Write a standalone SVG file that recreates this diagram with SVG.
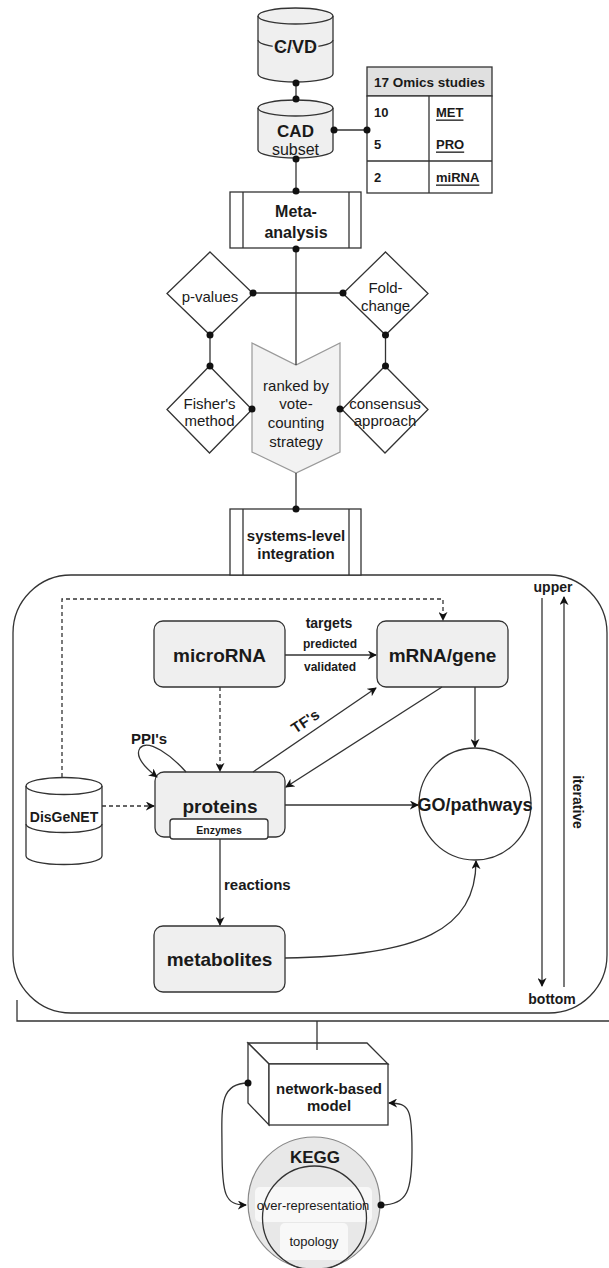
<svg xmlns="http://www.w3.org/2000/svg" width="609" height="1268" viewBox="0 0 609 1268">
<style>
text{font-family:"Liberation Sans",Arial,sans-serif;fill:#1a1a1a;text-anchor:middle;dominant-baseline:central}
.b{font-weight:bold}
.ln{fill:none;stroke:#333;stroke-width:1.3}
.dash{fill:none;stroke:#333;stroke-width:1.3;stroke-dasharray:4 3}
.nd{fill:#efefef;stroke:#333;stroke-width:1.3}
.wh{fill:#fff;stroke:#333;stroke-width:1.3}
.dot{fill:#111}
.dm{font-size:15px}
</style>
<defs>
<marker id="ar" viewBox="0 0 10 10" refX="9" refY="5" markerWidth="9" markerHeight="9" markerUnits="userSpaceOnUse" orient="auto">
<path d="M0,0 L10,5 L0,10 L3,5 Z" fill="#111"/>
</marker>
</defs>
<rect width="609" height="1268" fill="#fff"/>

<g id="container">
<rect x="13" y="575" width="594" height="438" rx="58" ry="58" fill="none" stroke="#333" stroke-width="1.3"/>
<path class="ln" d="M17,1000 L17,1021 L609,1021"/>
</g>

<g id="cvd">
<path class="nd" d="M258,16 A37.5,8 0 0 1 333,16 L333,74 A37.5,8 0 0 1 258,74 Z"/>
<path class="ln" d="M258,16 A37.5,8 0 0 0 333,16"/>
<path class="ln" d="M258,40 A37.5,8 0 0 0 333,40"/>
<text x="295.5" y="47" class="b" font-size="18" style="paint-order:stroke" stroke="#efefef" stroke-width="4">C/VD</text>
</g>

<g id="cad">
<path class="nd" d="M258,108 A37.5,8 0 0 1 333,108 L333,150 A37.5,8 0 0 1 258,150 Z"/>
<path class="ln" d="M258,108 A37.5,8 0 0 0 333,108"/>
<text x="295.5" y="131" class="b" font-size="17">CAD</text>
<text x="295.5" y="149" font-size="16">subset</text>
</g>

<g id="omics-table">
<rect x="367" y="67" width="125" height="29" fill="#e0e0e0" stroke="#333" stroke-width="1.3"/>
<rect x="367" y="96" width="125" height="97" fill="#fff" stroke="#333" stroke-width="1.3"/>
<path class="ln" d="M429,96 L429,193 M367,161 L492,161"/>
<text x="429.5" y="82" class="b" font-size="13.5">17 Omics studies</text>
<g class="b" font-size="13">
<text x="374" y="112" style="text-anchor:start">10</text>
<text x="374" y="144" style="text-anchor:start">5</text>
<text x="374" y="177" style="text-anchor:start">2</text>
<text x="436" y="112" style="text-anchor:start" text-decoration="underline">MET</text>
<text x="436" y="144" style="text-anchor:start" text-decoration="underline">PRO</text>
<text x="436" y="177" style="text-anchor:start" text-decoration="underline">miRNA</text>
</g>
</g>

<g id="meta-analysis">
<rect class="wh" x="230" y="192" width="131" height="56"/>
<path class="ln" d="M243,192 L243,248 M349,192 L349,248"/>
<text x="296" y="211" class="b" font-size="16">Meta-</text>
<text x="296" y="232" class="b" font-size="16">analysis</text>
</g>

<g id="p-values">
<polygon class="wh" points="210,252 253,293.5 210,335 167,293.5"/>
<text x="210" y="296" class="dm">p-values</text>
</g>
<g id="fold-change">
<polygon class="wh" points="385.5,252 428,293.5 385.5,335 343,293.5"/>
<text x="385.5" y="287" class="dm">Fold-</text>
<text x="385.5" y="305" class="dm">change</text>
</g>
<g id="fishers">
<polygon class="wh" points="209.5,366 252,409.5 209.5,453 167,409.5"/>
<text x="209.5" y="403" class="dm">Fisher's</text>
<text x="209.5" y="420" class="dm">method</text>
</g>
<g id="consensus">
<polygon class="wh" points="385,366 428,409.5 385,453 342,409.5"/>
<text x="385" y="403" class="dm">consensus</text>
<text x="385" y="420" class="dm">approach</text>
</g>
<g id="ranked">
<path d="M252,343 L296,365 L340,343 L340,452 L296,473 L252,452 Z" fill="#f2f2f2" stroke="#999" stroke-width="1.2"/>
<text x="296" y="385" font-size="15">ranked by</text>
<text x="296" y="403" font-size="15">vote-</text>
<text x="296" y="422" font-size="15">counting</text>
<text x="296" y="441" font-size="15">strategy</text>
</g>

<g id="systems-level">
<rect class="wh" x="230" y="509" width="131" height="66"/>
<path class="ln" d="M243,509 L243,575 M349,509 L349,575"/>
<text x="296" y="535" class="b" font-size="15">systems-level</text>
<text x="296" y="553" class="b" font-size="15">integration</text>
</g>

<g id="microRNA">
<rect class="nd" x="154" y="621" width="131" height="66" rx="9"/>
<text x="219.5" y="655" class="b" font-size="19">microRNA</text>
</g>
<g id="mRNA-gene">
<rect class="nd" x="377" y="621" width="131" height="66" rx="9"/>
<text x="442.5" y="655" class="b" font-size="19">mRNA/gene</text>
</g>
<g id="proteins">
<rect class="nd" x="155" y="772" width="130" height="65" rx="9"/>
<text x="220" y="806" class="b" font-size="19">proteins</text>
<rect class="wh" x="170" y="819" width="98" height="20" rx="3"/>
<text x="219" y="829.5" class="b" font-size="10.5">Enzymes</text>
</g>
<g id="metabolites">
<rect class="nd" x="154" y="926" width="131" height="66" rx="9"/>
<text x="219.5" y="959" class="b" font-size="19">metabolites</text>
</g>
<g id="go-pathways">
<circle class="wh" cx="475" cy="804" r="56"/>
<text x="475" y="805" class="b" font-size="18">GO/pathways</text>
</g>
<g id="disgenet">
<path class="wh" d="M26,786 A38,8.5 0 0 1 102,786 L102,856 A38,8.5 0 0 1 26,856 Z"/>
<path class="ln" d="M26,786 A38,8.5 0 0 0 102,786"/>
<path class="ln" d="M26,824 A38,8.5 0 0 0 102,824"/>
<text x="64" y="817" class="b" font-size="14">DisGeNET</text>
</g>

<g id="iterative">
<text x="553" y="587" class="b" font-size="14">upper</text>
<text x="552" y="999" class="b" font-size="14">bottom</text>
<text x="0" y="0" class="b" font-size="14" transform="translate(578,802) rotate(90)">iterative</text>
</g>

<g id="network-model">
<polygon class="wh" points="248,1043 367,1043 388,1064 269,1064"/>
<polygon class="wh" points="248,1043 269,1064 269,1125 248,1103"/>
<rect class="wh" x="269" y="1064" width="119" height="61"/>
<text x="329" y="1088" class="b" font-size="15">network-based</text>
<text x="329" y="1105" class="b" font-size="15">model</text>
</g>

<g id="kegg">
<circle cx="314" cy="1203" r="66" fill="#e8e8e8" stroke="#888" stroke-width="1.2"/>
<rect x="255" y="1187" width="117" height="35" rx="5" fill="#fafafa" fill-opacity="0.9"/>
<rect x="280" y="1223" width="68" height="37" rx="5" fill="#fafafa" fill-opacity="0.9"/>
<circle cx="314.5" cy="1218" r="52" fill="none" stroke="#333" stroke-width="1.3"/>
<text x="315" y="1157" class="b" font-size="17">KEGG</text>
<text x="313" y="1205" font-size="13">over-representation</text>
<text x="314" y="1241" font-size="13">topology</text>
</g>

<g id="connectors">
<path class="ln" d="M296,83 L296,99"/>
<circle class="dot" cx="296" cy="83" r="3.5"/><circle class="dot" cx="296" cy="99" r="3.5"/>
<path class="ln" d="M334,130 L367,130"/>
<circle class="dot" cx="334" cy="130" r="3.5"/><circle class="dot" cx="367" cy="130" r="3.5"/>
<path class="ln" d="M296,159 L296,192"/>
<circle class="dot" cx="296" cy="159" r="3.5"/><circle class="dot" cx="296" cy="191" r="3.5"/>
<path class="ln" d="M296,249 L296,365"/>
<circle class="dot" cx="296" cy="249" r="3.5"/>
<path class="ln" d="M253,293 L343,293"/>
<circle class="dot" cx="253" cy="293" r="3.5"/><circle class="dot" cx="343" cy="293" r="3.5"/>
<path class="ln" d="M210,335 L210,366"/>
<circle class="dot" cx="210" cy="335" r="3.5"/><circle class="dot" cx="210" cy="366" r="3.5"/>
<path class="ln" d="M385.5,335 L385.5,366"/>
<circle class="dot" cx="385.5" cy="335" r="3.5"/><circle class="dot" cx="385.5" cy="366" r="3.5"/>
<circle class="dot" cx="252" cy="409" r="3.5"/><circle class="dot" cx="340" cy="409" r="3.5"/>
<path class="ln" d="M296,473 L296,509"/>
<circle class="dot" cx="296" cy="509" r="3.5"/>

<path class="dash" d="M62,777 L62,599 L443,599 L443,620" marker-end="url(#ar)"/>
<path class="ln" d="M285,655 L376,655" marker-end="url(#ar)"/>
<text x="329" y="623" class="b" font-size="14">targets</text>
<text x="330" y="644" class="b" font-size="12">predicted</text>
<text x="330" y="667" class="b" font-size="12">validated</text>
<path class="dash" d="M220,687 L220,771" marker-end="url(#ar)"/>
<path class="ln" d="M186,772 C172,756 148,738 140,748 C134,757 148,770 157,777" marker-end="url(#ar)"/>
<text x="149" y="738" class="b" font-size="15">PPI's</text>
<path class="ln" d="M253,772 L376,688" marker-end="url(#ar)"/>
<text x="0" y="0" class="b" font-size="15" transform="translate(305,721) rotate(-34)">TF's</text>
<path class="ln" d="M442,687 L286,787" marker-end="url(#ar)"/>
<path class="ln" d="M475,687 L475,747" marker-end="url(#ar)"/>
<path class="ln" d="M285,805 L418,805" marker-end="url(#ar)"/>
<path class="dash" d="M102,806 L154,806" marker-end="url(#ar)"/>
<path class="ln" d="M220,839 L220,925" marker-end="url(#ar)"/>
<text x="224" y="884" class="b" font-size="15" style="text-anchor:start">reactions</text>
<path class="ln" d="M285,958 C420,956 476,930 476,861" marker-end="url(#ar)"/>
<path class="ln" d="M542,598 L542,986" marker-end="url(#ar)"/>
<path class="ln" d="M564,987 L564,597" marker-end="url(#ar)"/>
<path class="ln" d="M317,1021 L317,1050"/>
<path class="ln" d="M248,1083 C218,1083 222,1110 222,1150 C222,1195 225,1205 246,1205" marker-end="url(#ar)"/>
<circle class="dot" cx="248" cy="1083" r="3.5"/>
<path class="ln" d="M381,1205 C408,1205 412,1190 412,1150 C412,1110 410,1103 389,1103" marker-end="url(#ar)"/>
<circle class="dot" cx="381" cy="1205" r="3.5"/>
</g>
</svg>
